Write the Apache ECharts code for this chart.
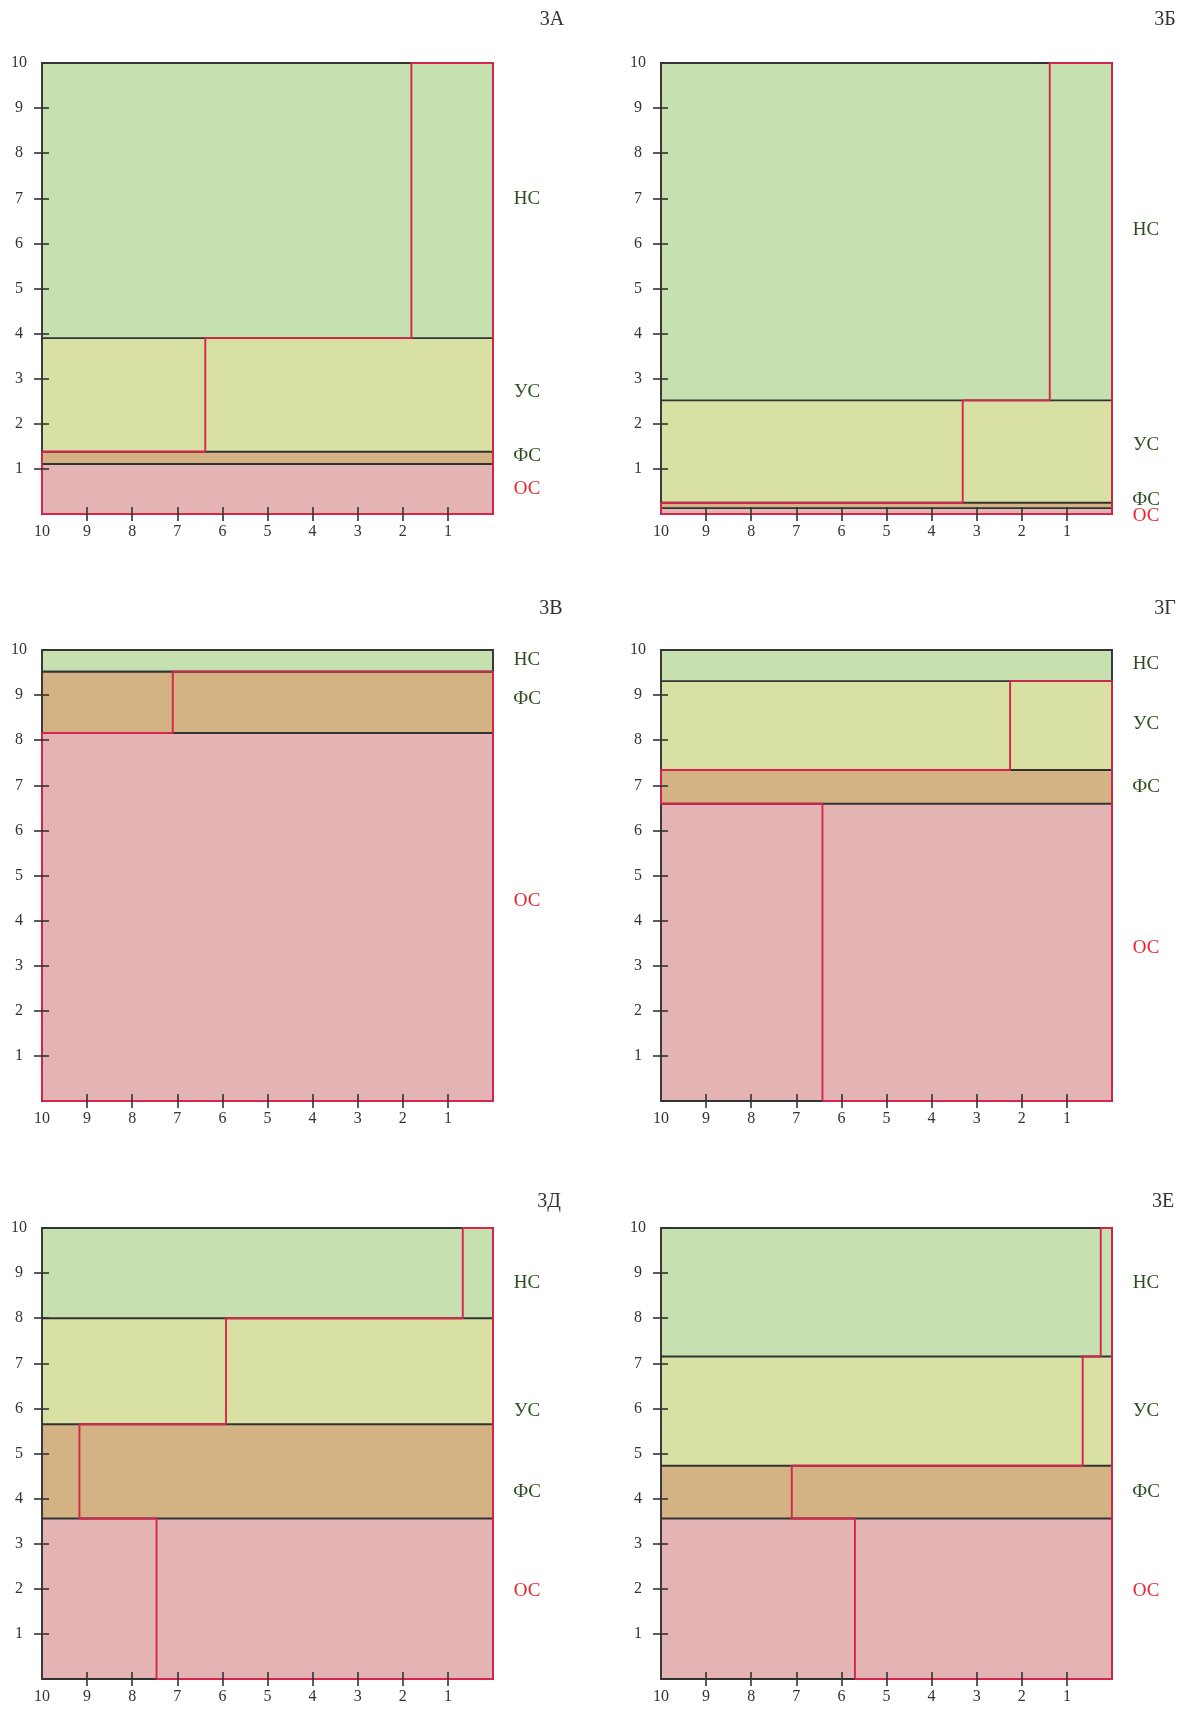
<!DOCTYPE html>
<html><head><meta charset="utf-8">
<script src="https://cdn.jsdelivr.net/npm/echarts@6/dist/echarts.min.js"></script>
<style>html,body{margin:0;padding:0;background:#fff}#c{width:1187px;height:1711px}</style>
</head><body><div id="c"></div>
<script>
// ---------- data ----------
const bandNames = ['ОС', 'ФС', 'УС', 'НС'];          // bottom to top
const panelTitles = ['3А', '3Б', '3В', '3Г', '3Д', '3Е'];
// band heights (y units, bottom to top: ОС, ФС, УС, НС)
const heights3A = [1.11, 0.27, 2.52, 6.10];
const heights3B = [0.13, 0.12, 2.27, 7.48];
const heights3V = [8.16, 1.36, 0.00, 0.48];
const heights3G = [6.59, 0.75, 1.97, 0.69];
const heights3D = [3.56, 2.09, 2.35, 2.00];
const heights3E = [3.56, 1.17, 2.42, 2.85];
// x value of the red divider in each band (ОС, ФС, УС, НС)
const dividers3A = [10, 10, 6.38, 1.81];
const dividers3B = [10, 10, 3.31, 1.38];
const dividers3V = [10, 7.10, 0, 0];
const dividers3G = [6.42, 10, 2.26, 0];
const dividers3D = [7.46, 9.17, 5.92, 0.67];
const dividers3E = [5.70, 7.10, 0.65, 0.25];
// tick labels
const xTickLabels = [10, 9, 8, 7, 6, 5, 4, 3, 2, 1];
const yTickLabels = [1, 2, 3, 4, 5, 6, 7, 8, 9, 10];
const tickMarks = [1, 2, 3, 4, 5, 6, 7, 8, 9];

// ---------- layout / style ----------
const labelAnchors = [
  [0.56, 1.28, 2.71, 6.98],
  [-0.05, 0.32, 1.53, 6.29],
  [4.44, 8.91, null, 9.78],
  [3.40, 6.96, 8.36, 9.69],
  [1.95, 4.14, 5.95, 8.77],
  [1.95, 4.14, 5.95, 8.77]
];
const allHeights = [heights3A, heights3B, heights3V, heights3G, heights3D, heights3E];
const allDividers = [dividers3A, dividers3B, dividers3V, dividers3G, dividers3D, dividers3E];
const bandColors = ['#e4b4b4', '#d3b284', '#d8e0a4', '#c7e0af'];
const labelColors = ['#e8242b', '#2e4d1f', '#2e4d1f', '#2e4d1f'];
const RED = '#d7254e', DARK = '#333333';
const FONT = 'Liberation Serif';
const colLeft = [42, 661], rowTop = [63, 650, 1228], SIZE = 451;
const titlePos = [[552, 20], [1165, 20], [551, 609], [1165, 609], [549, 1202], [1163, 1202]];

const grids = [], xAxes = [], yAxes = [], series = [], graphics = [];

function renderBand(params, api) {
  const b = api.value(0), t = api.value(1), k = api.value(2), ly = api.value(3);
  const p0 = api.coord([10, t]), p1 = api.coord([0, b]);
  const children = [];
  if (t > b) {
    children.push({type: 'rect', z2: 0,
      shape: {x: p0[0], y: p0[1], width: p1[0] - p0[0], height: p1[1] - p0[1]},
      style: {fill: bandColors[k]}});
  }
  if (isFinite(ly)) {
    const lp = api.coord([0, ly]);
    children.push({type: 'text', z2: 20, x: lp[0] + 34, y: lp[1],
      style: {text: bandNames[k], fill: labelColors[k], font: '19px "' + FONT + '"',
        align: 'center', verticalAlign: 'middle'}});
  }
  return {type: 'group', children};
}

function renderFrame(params, api) {
  const y = api.value(0), kind = api.value(1);
  if (kind === 1) {
    const a = api.coord([10, 10]), c = api.coord([0, 0]);
    return {type: 'rect', z2: 10, shape: {x: a[0], y: a[1], width: c[0] - a[0], height: c[1] - a[1]},
      style: {fill: 'none', stroke: DARK, lineWidth: 1.9}};
  }
  const l = api.coord([10, y]), r = api.coord([0, y]);
  return {type: 'line', z2: 10, shape: {x1: l[0], y1: l[1], x2: r[0], y2: r[1]},
    style: {stroke: DARK, lineWidth: 1.9}};
}

for (let p = 0; p < 6; p++) {
  const h = allHeights[p], d = allDividers[p];
  const left = colLeft[p % 2], top = rowTop[Math.floor(p / 2)];
  grids.push({left: left, top: top, width: SIZE, height: SIZE, containLabel: false});
  const tickStyle = {color: DARK, width: 1.6};
  xAxes.push({gridIndex: p, type: 'value', min: 0, max: 10, inverse: true, position: 'bottom',
    offset: -7, z: 10,
    axisLine: {show: false, onZero: false}, splitLine: {show: false},
    axisTick: {show: true, length: 14, lineStyle: tickStyle, customValues: tickMarks},
    axisLabel: {customValues: xTickLabels, margin: 17, fontFamily: FONT, fontSize: 16, color: DARK}});
  yAxes.push({gridIndex: p, type: 'value', min: 0, max: 10, position: 'left',
    offset: -7, z: 10,
    axisLine: {show: false, onZero: false}, splitLine: {show: false},
    axisTick: {show: true, length: 15, lineStyle: tickStyle, customValues: tickMarks},
    axisLabel: {customValues: yTickLabels, margin: 30, align: 'center', fontFamily: FONT, fontSize: 16, color: DARK}});

  // bands
  const bandData = [];
  const bounds = [];
  let acc = 0;
  for (let i = 0; i < 4; i++) {
    const b = acc, t = acc + h[i];
    const la = labelAnchors[p][i];
    bandData.push([b, t, i, la === null ? '-' : la]);
    bounds.push([b, t]);
    acc = t;
  }
  series.push({type: 'custom', xAxisIndex: p, yAxisIndex: p, z: 1, silent: true,
    renderItem: renderBand, data: bandData});

  // black band boundaries + frame
  const lineData = [];
  for (let i = 0; i < 3; i++) lineData.push([bounds[i][1], 0]);
  lineData.push([0, 1]);
  series.push({type: 'custom', xAxisIndex: p, yAxisIndex: p, z: 3, silent: true,
    renderItem: renderFrame, data: lineData});

  // red outline of the region right of the dividers
  let k = 0;
  for (let i = 0; i < 4; i++) if (h[i] > 0 && d[i] > 0) k = i;
  const pts = [[d[0], 0]];
  for (let i = 0; i <= k; i++) {
    if (h[i] <= 0) continue;
    pts.push([d[i], bounds[i][0]]);
    pts.push([d[i], bounds[i][1]]);
  }
  pts.push([0, bounds[k][1]]);
  pts.push([0, 0]);
  pts.push([d[0], 0]);
  series.push({type: 'line', xAxisIndex: p, yAxisIndex: p, z: 5, silent: true,
    symbol: 'none', clip: false, animation: false,
    lineStyle: {color: RED, width: 1.9}, data: pts});

  graphics.push({type: 'text', x: titlePos[p][0], y: titlePos[p][1],
    style: {text: panelTitles[p], fill: DARK, font: '20px "' + FONT + '"', align: 'center', verticalAlign: 'middle'}});
}

const chart = echarts.init(document.getElementById('c'), null, {renderer: 'canvas'});
chart.setOption({
  backgroundColor: '#ffffff',
  animation: false,
  grid: grids, xAxis: xAxes, yAxis: yAxes, series: series, graphic: graphics
});
</script></body></html>
